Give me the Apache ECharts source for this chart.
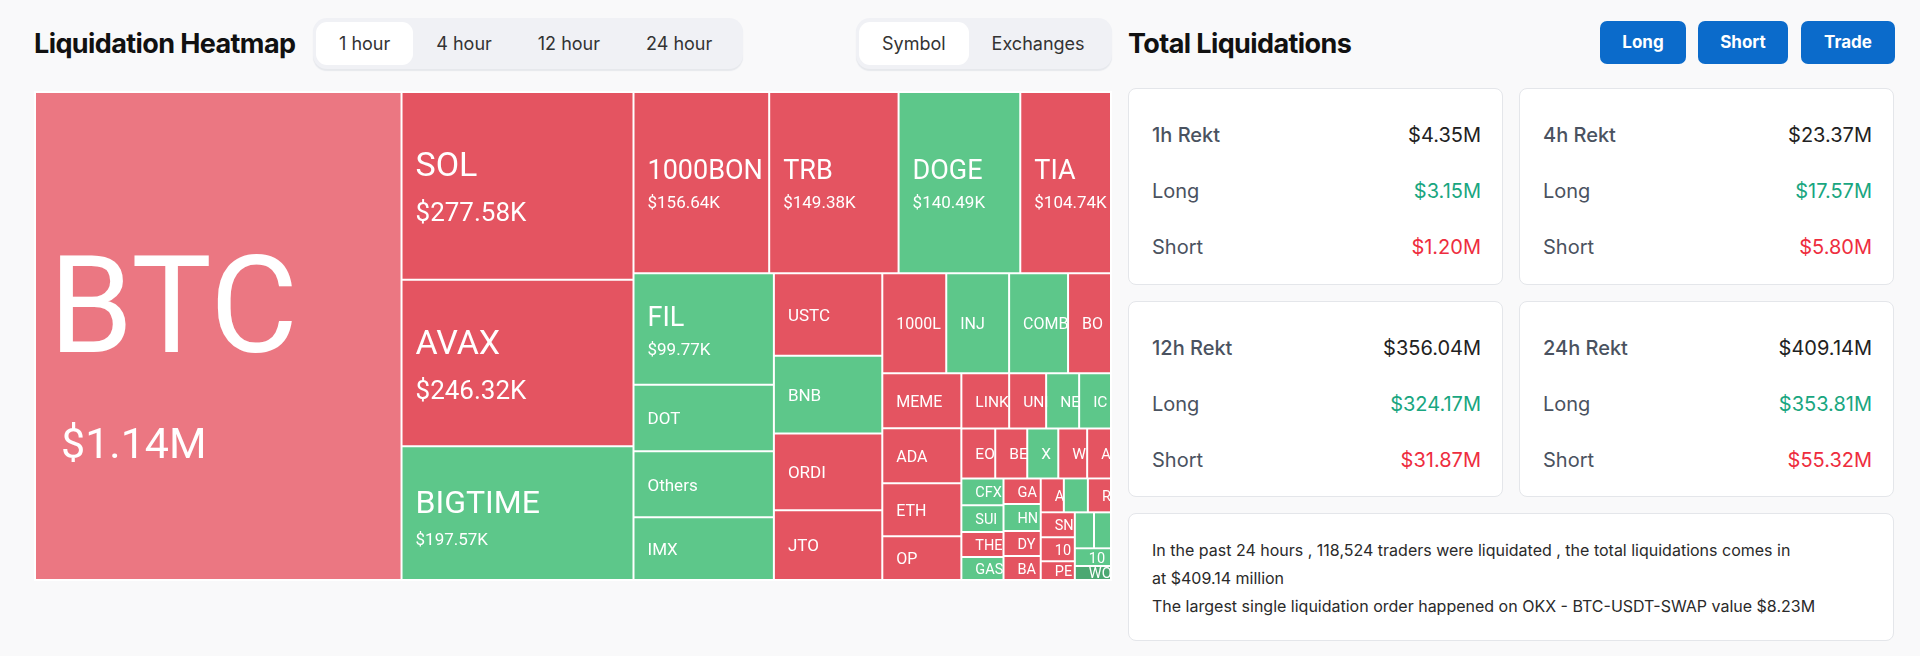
<!DOCTYPE html>
<html>
<head>
<meta charset="utf-8">
<script src="https://cdn.jsdelivr.net/npm/echarts@6/dist/echarts.min.js"></script>
<style>
html,body{margin:0;padding:0}
body{width:1920px;height:656px;background:#f9f9fa;position:relative;overflow:hidden;font-family:Inter,'Noto Sans',sans-serif;color:#222}
.h1{position:absolute;top:18px;height:52px;line-height:52px;font-weight:700;font-size:27px;letter-spacing:-0.6px;color:#111;white-space:nowrap}
.seg{position:absolute;top:18px;height:51px;box-sizing:border-box;padding:4px 3px;background:#f0f1f5;border-radius:14px;display:flex;box-shadow:0 2px 1px #e6e8ec}
.seg div{padding:0 23px;height:43px;line-height:43px;font-size:18px;color:#333;border-radius:11px;white-space:nowrap}
.seg .on{background:#fff}
.btn{position:absolute;top:21px;height:43px;line-height:43px;text-align:center;color:#fff;font-weight:700;font-size:17px;background:#0b6bcb;border-radius:7px}
.card{position:absolute;background:#fff;border:1px solid #e4e6ea;border-radius:8px;box-sizing:border-box}
.row{position:absolute;left:23px;right:21px;display:flex;justify-content:space-between;height:28px;line-height:28px;font-size:20px;color:#4a5260}
.row .t{font-weight:500}
.row .tv{color:#222}
.row .lv{color:#19a67f}
.row .sv{color:#ee2d3e}
.desc{position:absolute;left:1128px;top:513px;width:766px;height:128px;padding:22px 0 0 23px;font-size:16px;line-height:28px;color:#2a2a2a}
#heat{position:absolute;left:34px;top:91px;width:1078px;height:490px}
</style>
</head>
<body>
<div class="h1" style="left:34px">Liquidation Heatmap</div>
<div class="seg" style="left:313px;width:430px">
  <div class="on">1 hour</div><div>4 hour</div><div>12 hour</div><div>24 hour</div>
</div>
<div class="seg" style="left:856px;width:256px">
  <div class="on">Symbol</div><div>Exchanges</div>
</div>
<div class="h1" style="left:1128px">Total Liquidations</div>
<div class="btn" style="left:1600px;width:86px">Long</div>
<div class="btn" style="left:1698px;width:90px">Short</div>
<div class="btn" style="left:1801px;width:94px">Trade</div>
<div id="cards"></div>
<div class="card desc">In the past 24 hours , 118,524 traders were liquidated , the total liquidations comes in<br>at $409.14 million<br>The largest single liquidation order happened on OKX - BTC-USDT-SWAP value $8.23M</div>
<div id="heat"></div>
<script>
// ---- summary data ----
const periods = ['1h', '4h', '12h', '24h'];
const totalM = [4.35, 23.37, 356.04, 409.14];
const longM = [3.15, 17.57, 324.17, 353.81];
const shortM = [1.20, 5.80, 31.87, 55.32];

// ---- heatmap data (1 hour, liquidation value in $K) ----
const symbols = ['BTC','SOL','AVAX','BIGTIME','1000BONK','TRB','DOGE','TIA','FIL','DOT','Others','IMX',
  'USTC','BNB','ORDI','JTO','1000LUNC','INJ','COMBO','BOND','MEME','ADA','ETH','OP',
  'LINK','UNI','NEAR','ICP','EOS','BEL','XRP','WLD','ATOM','CFX','SUI','THETA','GAS',
  'GALA','HNT','DYDX','BAND','ARB','MATIC','RUNE','SNX','1000SATS','PEPE','SEI','ID','1000RATS','WOO'];
const liqK = [1140, 277.58, 246.32, 197.57, 156.64, 149.38, 140.49, 104.74, 99.77, 59.7, 58.9, 56.2,
  57.1, 53.7, 53.0, 48.2, 40.8, 40.1, 37.6, 27.4, 27.7, 27.7, 26.7, 22.1,
  16.8, 13.0, 11.6, 11.2, 10.8, 10.2, 9.9, 9.2, 7.6, 7.2, 7.2, 6.7, 6.2,
  6.1, 6.4, 5.9, 5.7, 5.0, 5.2, 5.0, 5.4, 5.2, 4.1, 4.4, 3.9, 4.1, 3.2];
const tone = ['p','r','r','g','r','r','g','r','g','g','g','g',
  'r','g','r','r','r','g','g','r','r','r','r','r',
  'r','r','g','g','r','r','g','r','r','g','g','r','g',
  'r','g','r','r','r','g','r','r','r','r','g','g','g','d'];
const toneColor = {p: '#eb7782', r: '#e45461', g: '#5dc78a', d: '#4ca872'};

// ---- cards ----
const cardBox = document.getElementById('cards');
periods.forEach((p, i) => {
  const c = document.createElement('div');
  c.className = 'card';
  c.style.left = (i % 2 ? 1519 : 1128) + 'px';
  c.style.top = (i < 2 ? 88 : 301) + 'px';
  c.style.width = '375px';
  c.style.height = (i < 2 ? 197 : 196) + 'px';
  c.innerHTML =
    `<div class="row" style="top:32px"><span class="t">${p} Rekt</span><span class="tv">$${totalM[i].toFixed(2)}M</span></div>` +
    `<div class="row" style="top:88px"><span>Long</span><span class="lv">$${longM[i].toFixed(2)}M</span></div>` +
    `<div class="row" style="top:144px"><span>Short</span><span class="sv">$${shortM[i].toFixed(2)}M</span></div>`;
  cardBox.appendChild(c);
});

// ---- treemap ----
function fmtVal(v) { return v >= 1000 ? '$' + (v / 1000).toFixed(2) + 'M' : '$' + v.toFixed(2) + 'K'; }
const rich = {
  n1: { fontSize: 135, lineHeight: 222 }, v1: { fontSize: 43, lineHeight: 36, padding: [0, 0, 0, 12] },
  n2: { fontSize: 34, lineHeight: 58 },  v2: { fontSize: 26, lineHeight: 36 },
  n3: { fontSize: 32, lineHeight: 55 },  v3: { fontSize: 17, lineHeight: 17 },
  n4: { fontSize: 27, lineHeight: 43 },  v4: { fontSize: 17, lineHeight: 20 },
  s1: { fontSize: 17, lineHeight: 12 }, s2: { fontSize: 16, lineHeight: 12 },
  s3: { fontSize: 15.5, lineHeight: 12 }, s4: { fontSize: 14.5, lineHeight: 10 }
};
Object.keys(rich).forEach(k => { rich[k].color = '#fff'; rich[k].fontFamily = 'Roboto'; });
function tierOf(v) {
  if (v >= 1000) return ['n1', 'v1'];
  if (v >= 240) return ['n2', 'v2'];
  if (v >= 190) return ['n3', 'v3'];
  if (v >= 95) return ['n4', 'v4'];
  if (v >= 45) return ['s1'];
  if (v >= 20) return ['s2'];
  if (v >= 9) return ['s3'];
  return ['s4'];
}
function blockHeight(v) { return tierOf(v).reduce((s, k) => s + rich[k].lineHeight, 0); }

function buildData(layoutByName) {
  return symbols.map((s, i) => {
    const item = { name: s, value: liqK[i], itemStyle: { color: toneColor[tone[i]] } };
    const l = layoutByName && layoutByName[s];
    if (l) {
      const contentH = l.height - 2 * (l.borderWidth || 0);
      const bh = blockHeight(liqK[i]);
      const shift = tierOf(liqK[i]).length > 1 ? 0 : 2;
      const pt = Math.max(0, Math.min((contentH - bh) / 2 + shift, contentH - bh));
      // let the last glyph run a few px past the cell edge, as the clipped original labels do
      item.label = { padding: [pt, -4, 0, 13] };
    }
    return item;
  });
}

const chart = echarts.init(document.getElementById('heat'), null, { renderer: 'canvas' });
chart.setOption({
  animation: false,
  series: [{
    type: 'treemap',
    left: 0, top: 0, width: '100%', height: '100%',
    roam: false,
    nodeClick: false,
    sort: false,
    breadcrumb: { show: false },
    emphasis: { disabled: true },
    itemStyle: { borderWidth: 1, borderColor: '#fff', gapWidth: 0, borderRadius: 0 },
    label: {
      show: true,
      position: 'insideLeft',
      distance: 0,
      padding: [0, 0, 0, 13],
      color: '#fff',
      fontFamily: 'Roboto',
      overflow: 'truncate',
      ellipsis: '',
      formatter: function (p) {
        const t = tierOf(p.value);
        return t.length > 1
          ? '{' + t[0] + '|' + p.name + '}\n{' + t[1] + '|' + fmtVal(p.value) + '}'
          : '{' + t[0] + '|' + p.name + '}';
      },
      rich: rich
    },
    data: buildData(null)
  }]
});

// centre each label block vertically inside its cell, using the cell size laid out by ECharts
const layoutByName = {};
try {
  const root = chart.getModel().getSeriesByIndex(0).getData().tree.root;
  root.children.forEach(n => { layoutByName[n.name] = n.getLayout(); });
} catch (e) {}
chart.setOption({ series: [{ data: buildData(layoutByName) }] });
</script>
</body>
</html>
